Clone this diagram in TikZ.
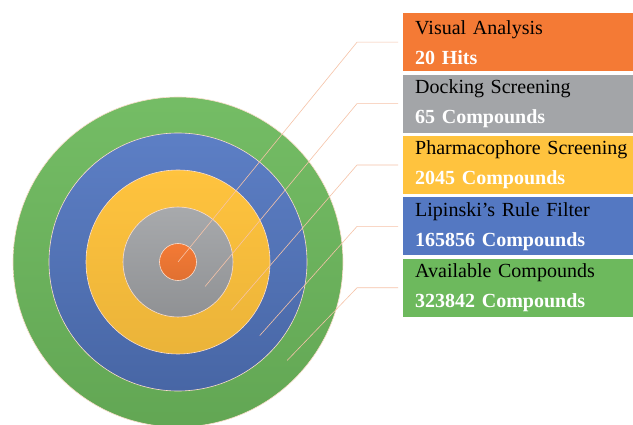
\documentclass[tikz,border=0pt]{standalone}
\usepackage{fontspec}
\setmainfont{Liberation Serif}
\usetikzlibrary{positioning}
\definecolor{pOrange}{HTML}{F47A35}
\definecolor{pGray}{HTML}{A3A5A8}
\definecolor{pYellow}{HTML}{FFC33E}
\definecolor{pBlue}{HTML}{5478C2}
\definecolor{pGreen}{HTML}{6DB95D}
\definecolor{pLead}{HTML}{F6C3A8}
\tikzset{
    ring/.style={circle, draw=white!75!pOrange, line width=0.6pt, inner sep=0pt},
    tag/.style={anchor=north west, minimum width=240pt, minimum height=58pt, text width=216pt,
        inner xsep=12pt, align=left, font=\fontsize{20}{30}\selectfont, text=black},
    lead/.style={draw=pLead, line width=0.6pt}
}

\begin{document}
\begin{tikzpicture}[x=1pt,y=-1pt]
\path[fill=white,use as bounding box] (0,0) rectangle (633,425);
% target rings
\node[ring,top color=pGreen!95!white,bottom color=pGreen!90!black,minimum size=330pt] (ravail) at (178,262) {};
\node[ring,top color=pBlue!95!white,bottom color=pBlue!85!black,minimum size=258pt] (rlipi) at (178,262) {};
\node[ring,top color=pYellow,bottom color=pYellow!92!black,minimum size=184pt] (rpharm) at (178,262) {};
\node[ring,top color=pGray!95!white,bottom color=pGray!88!black,minimum size=110pt] (rdock) at (178,262) {};
\node[ring,top color=pOrange,bottom color=pOrange!92!black,minimum size=37pt] (rvis) at (178,262) {};
% label boxes
\node[tag,fill=pOrange] (visual) at (403,13) {Visual Analysis\\\textcolor{white}{\textbf{20 Hits}}};
\node[tag,fill=pGray,below=3pt of visual] (dock) {Docking Screening\\\textcolor{white}{\textbf{65 Compounds}}};
\node[tag,fill=pYellow,below=3pt of dock] (pharm) {Pharmacophore Screening\\\textcolor{white}{\textbf{2045 Compounds}}};
\node[tag,fill=pBlue,below=3pt of pharm] (lipi) {Lipinski’s Rule Filter\\\textcolor{white}{\textbf{165856 Compounds}}};
\node[tag,fill=pGreen,below=3pt of lipi] (avail) {Available Compounds\\\textcolor{white}{\textbf{323842 Compounds}}};
% leader lines
\coordinate (pvis) at (rvis.center);
\coordinate (pdock) at ([shift={(-42:36.5pt)}]rdock.center);
\coordinate (ppharm) at ([shift={(-42:72pt)}]rpharm.center);
\coordinate (plipi) at ([shift={(-42:110pt)}]rlipi.center);
\coordinate (pavail) at ([shift={(-42:147pt)}]ravail.center);
\draw[lead] (pvis) -- ([xshift=-46pt]visual.west) -- ([xshift=-5pt]visual.west);
\draw[lead] (pdock) -- ([xshift=-46pt]dock.west) -- ([xshift=-5pt]dock.west);
\draw[lead] (ppharm) -- ([xshift=-46pt]pharm.west) -- ([xshift=-5pt]pharm.west);
\draw[lead] (plipi) -- ([xshift=-46pt]lipi.west) -- ([xshift=-5pt]lipi.west);
\draw[lead] (pavail) -- ([xshift=-46pt]avail.west) -- ([xshift=-5pt]avail.west);
\end{tikzpicture}
\end{document}
